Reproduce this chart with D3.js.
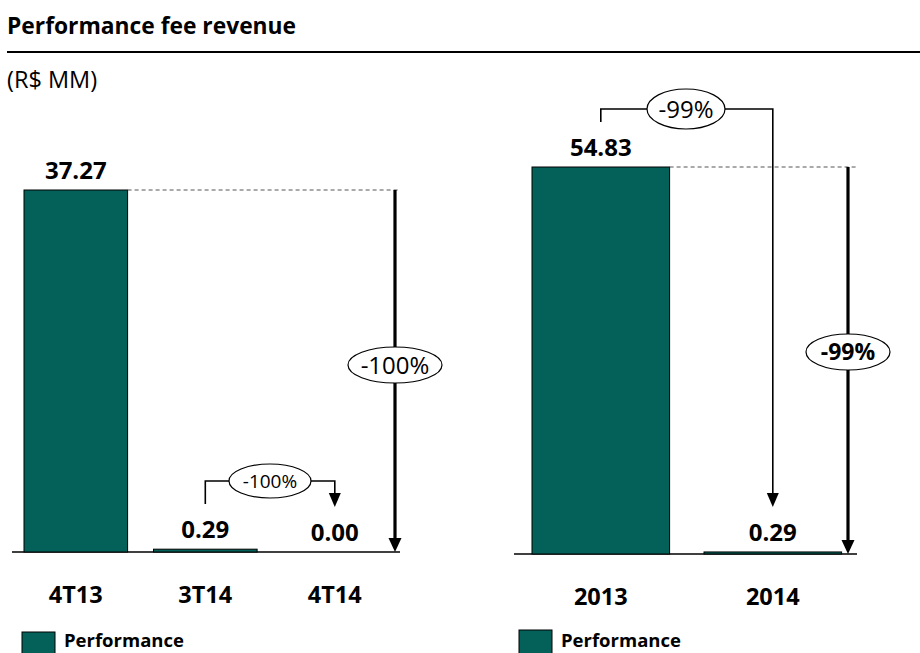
<!DOCTYPE html>
<html>
<head>
<meta charset="utf-8">
<script src="https://cdnjs.cloudflare.com/ajax/libs/d3/7.8.5/d3.min.js"></script>
<style>
  body { margin: 0; background: #fff; }
  svg { display: block; font-family: "Open Sans", Lato, sans-serif; }
</style>
</head>
<body>
<div id="chart"></div>
<script>
var WIDTH = 920
var HEIGHT = 653

// data
var quarters = ['4T13', '3T14', '4T14'];
var quarterValues = [37.27, 0.29, 0.00];
var years = ['2013', '2014'];
var yearValues = [54.83, 0.29];
var quarterTotalChange = '-100%';
var quarterStepChange = '-100%';
var yearTotalChange = '-99%';
var yearStepChange = '-99%';
var legendLabel = 'Performance';

var BAR = '#03615A';

const svg = d3.select('#chart').append('svg')
    .attr('width', WIDTH)
    .attr('height', HEIGHT);

// header
svg.append('text').attr('x', 7).attr('y', 34)
    .attr('font-size', 22.8).attr('font-weight', 'bold')
    .text('Performance fee revenue');
svg.append('line').attr('x1', 7).attr('x2', 920).attr('y1', 52).attr('y2', 52)
    .attr('stroke', '#000').attr('stroke-width', 2);
svg.append('text').attr('x', 7).attr('y', 88)
    .attr('font-size', 23.5).text('(R$ MM)');

function arrowV(g, x, y1, y2, w) {
    g.append('line').attr('x1', x).attr('x2', x).attr('y1', y1).attr('y2', y2 - 12)
        .attr('stroke', '#000').attr('stroke-width', w);
    g.append('path')
        .attr('d', 'M' + (x - 6.5) + ',' + (y2 - 14) + 'L' + (x + 6.5) + ',' + (y2 - 14) + 'L' + x + ',' + y2 + 'Z')
        .attr('fill', '#000');
}

function bubble(g, cx, cy, rx, ry, label, size, bold) {
    g.append('ellipse').attr('cx', cx).attr('cy', cy).attr('rx', rx).attr('ry', ry)
        .attr('fill', '#fff').attr('stroke', '#000').attr('stroke-width', 1.2);
    g.append('text').attr('x', cx).attr('y', cy + size * 0.36)
        .attr('text-anchor', 'middle').attr('font-size', size)
        .attr('font-weight', bold ? 'bold' : 'normal')
        .text(label);
}

function drawPanel(opt) {
    var g = svg.append('g');
    var x = d3.scaleBand().domain(opt.cats).range(opt.xr).paddingInner(0.2).paddingOuter(0);
    var y = d3.scaleLinear().domain([0, d3.max(opt.vals)]).range([opt.base, opt.top]);
    var cx = c => x(c) + x.bandwidth() / 2;

    // axis
    g.append('line').attr('x1', opt.axis[0]).attr('x2', opt.axis[1])
        .attr('y1', opt.base).attr('y2', opt.base).attr('stroke', '#000').attr('stroke-width', 1.3);

    // bars
    g.selectAll('rect.bar').data(opt.vals).enter().append('rect')
        .attr('class', 'bar')
        .attr('x', (d, i) => x(opt.cats[i]))
        .attr('width', x.bandwidth())
        .attr('y', d => y(d))
        .attr('height', d => opt.base - y(d))
        .attr('fill', BAR).attr('stroke', '#000').attr('stroke-width', 1)
        .attr('display', d => d > 0 ? null : 'none');

    // value labels
    g.selectAll('text.val').data(opt.vals).enter().append('text')
        .attr('class', 'val')
        .attr('x', (d, i) => cx(opt.cats[i]))
        .attr('y', d => Math.min(y(d) - 11, opt.base - 11))
        .attr('text-anchor', 'middle').attr('font-size', 24).attr('font-weight', 'bold')
        .text(d => d.toFixed(2));

    // category labels
    g.selectAll('text.cat').data(opt.cats).enter().append('text')
        .attr('class', 'cat')
        .attr('x', d => cx(d)).attr('y', opt.base + 51)
        .attr('text-anchor', 'middle').attr('font-size', 23.5).attr('font-weight', 'bold')
        .text(d => d);

    // dashed reference + total arrow
    var first = opt.cats[0];
    var yMax = y(opt.vals[0]);
    g.append('line').attr('x1', x(first) + x.bandwidth()).attr('x2', opt.axis[1])
        .attr('y1', yMax).attr('y2', yMax)
        .attr('stroke', '#555').attr('stroke-width', 1).attr('stroke-dasharray', '4,3');
    arrowV(g, opt.arrowX, yMax, opt.base, 3.2);
    bubble(g, opt.arrowX, opt.bubbleY, opt.bubble[0], opt.bubble[1], opt.total, opt.totalSize, opt.totalBold);

    // step bracket
    var a = opt.cats[opt.from], b = opt.cats[opt.cats.length - 1];
    var ax = cx(a), bx = cx(b);
    g.append('path')
        .attr('d', 'M' + ax + ',' + opt.bracket[0] + 'V' + opt.bracket[1] + 'H' + bx + 'V' + (opt.bracket[2] - 12))
        .attr('fill', 'none').attr('stroke', '#000').attr('stroke-width', 1.6);
    g.append('path')
        .attr('d', 'M' + (bx - 6) + ',' + (opt.bracket[2] - 14) + 'L' + (bx + 6) + ',' + (opt.bracket[2] - 14) + 'L' + bx + ',' + opt.bracket[2] + 'Z')
        .attr('fill', '#000');
    bubble(g, opt.stepCx, opt.bracket[1], opt.stepR[0], opt.stepR[1], opt.step, opt.stepSize, false);

    // legend
    g.append('rect').attr('x', opt.legX).attr('y', opt.legY).attr('width', 33).attr('height', 30)
        .attr('fill', BAR).attr('stroke', '#000').attr('stroke-width', 1);
    g.append('text').attr('x', opt.legX + 42).attr('y', 647)
        .attr('font-size', 18.5).attr('font-weight', 'bold').text(legendLabel);
}

drawPanel({
    cats: quarters, vals: quarterValues,
    xr: [24, 24 + 2.8 * 129.5], axis: [12, 400], base: 552, top: 190,
    arrowX: 395, bubbleY: 365, bubble: [47, 18], total: quarterTotalChange, totalSize: 24, totalBold: false,
    from: 1, bracket: [504, 481, 507], stepCx: 270, stepR: [41, 17], step: quarterStepChange, stepSize: 19,
    legX: 22, legY: 632
});

drawPanel({
    cats: years, vals: yearValues,
    xr: [532, 532 + 1.8 * 172], axis: [514, 857], base: 554, top: 167,
    arrowX: 848, bubbleY: 352, bubble: [42, 18], total: yearTotalChange, totalSize: 23, totalBold: true,
    from: 0, bracket: [122, 109, 507], stepCx: 686, stepR: [39, 20], step: yearStepChange, stepSize: 24,
    legX: 519, legY: 630
});
</script>
</body>
</html>
